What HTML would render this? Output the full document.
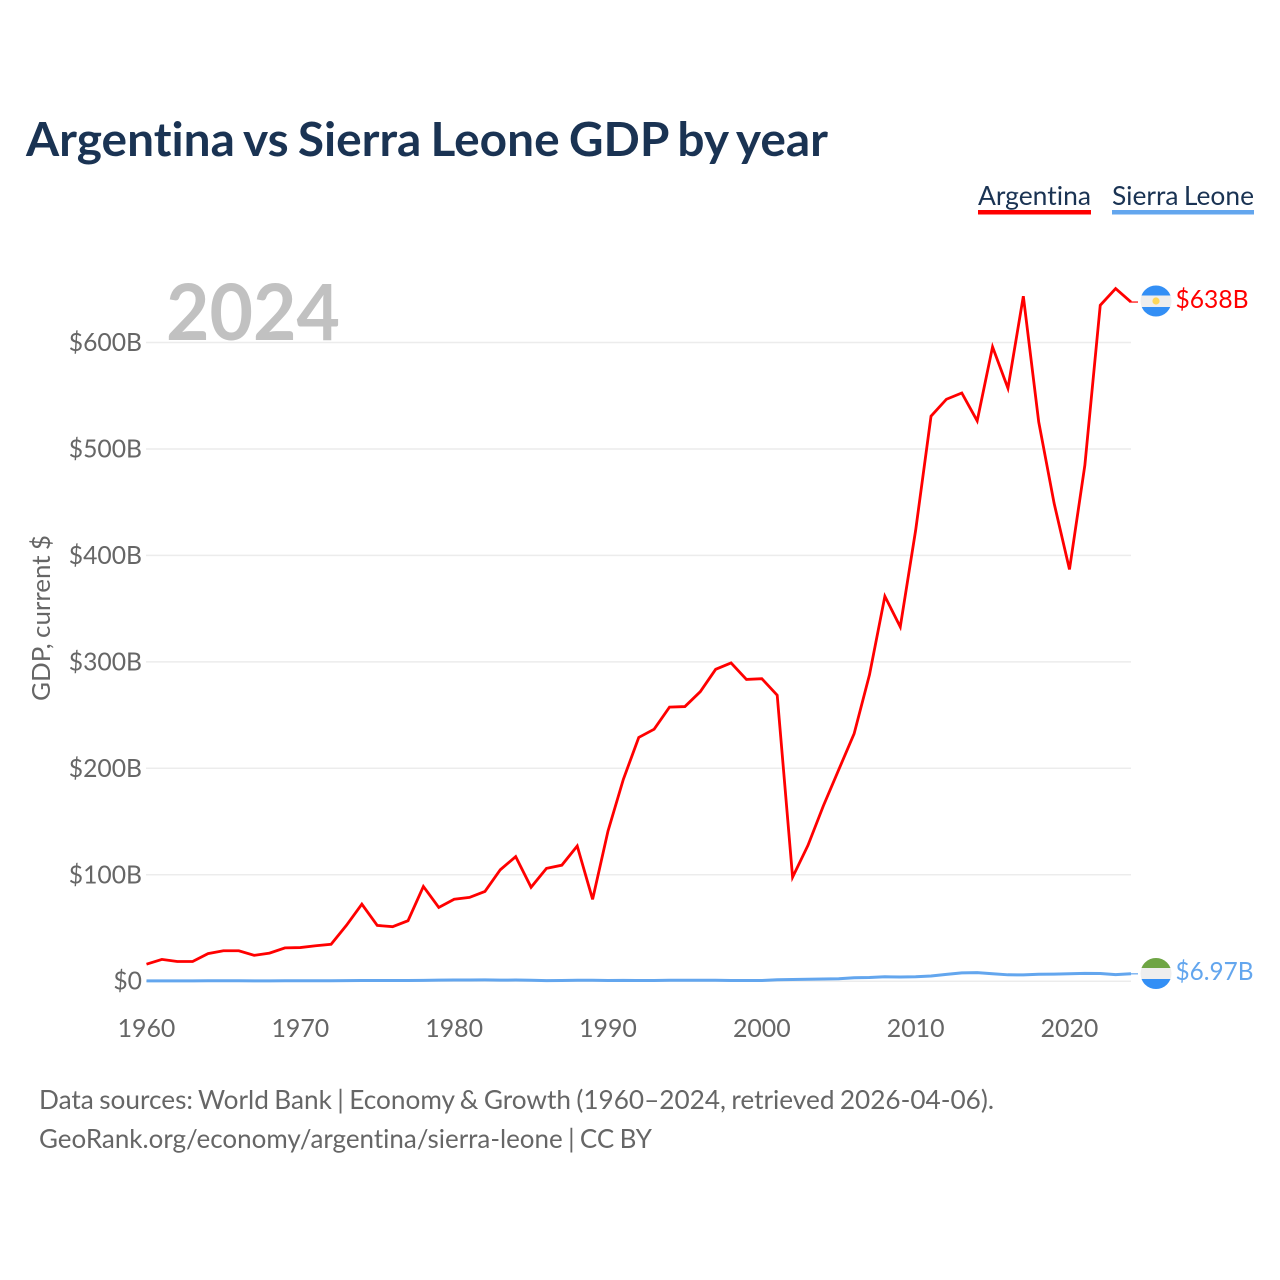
<!DOCTYPE html>
<html lang="en">
<head>
<meta charset="utf-8">
<title>Argentina vs Sierra Leone GDP by year</title>
<style>
  html, body { margin: 0; padding: 0; background: #ffffff; }
  #chart { display: block; width: 1280px; height: 1280px; }
  text { font-family: "Lato", "Carlito", "Liberation Sans", sans-serif; font-variant-ligatures: none; font-feature-settings: "liga" 0, "clig" 0, "dlig" 0; word-spacing: -0.05em; }
</style>
</head>
<body>
<svg id="chart" xmlns="http://www.w3.org/2000/svg" width="1280" height="1280" viewBox="0 0 1280 1280">
  <defs>
    <clipPath id="flag-clip-a"><circle cx="1156" cy="301" r="15.5"></circle></clipPath>
    <clipPath id="flag-clip-b"><circle cx="1156" cy="973.5" r="15.5"></circle></clipPath>
  </defs>

  <text x="26" y="156" font-size="47" font-weight="700" fill="#1a3353" textLength="802" lengthAdjust="spacingAndGlyphs">Argentina vs Sierra Leone GDP by year</text>

  <g>
    <g>
      <text x="978" y="205" font-size="26" fill="#1a3353" textLength="113" lengthAdjust="spacingAndGlyphs">Argentina</text>
      <rect x="978" y="210" width="113" height="4.5" fill="#ff0000"></rect>
    </g>
    <g>
      <text x="1112" y="205" font-size="26" fill="#1a3353" textLength="142" lengthAdjust="spacingAndGlyphs">Sierra Leone</text>
      <rect x="1112" y="210" width="142" height="4.5" fill="#63a6ee"></rect>
    </g>
  </g>

  <g id="grid"></g>
  <g id="y-ticks"></g>
  <g id="x-ticks"></g>

  <text x="166" y="340" font-size="78" font-weight="700" fill="#c1c1c1" textLength="174" lengthAdjust="spacingAndGlyphs">2024</text>

  <text transform="translate(50 701) rotate(-90)" x="0" y="0" font-size="25" fill="#666666" textLength="166" lengthAdjust="spacingAndGlyphs">GDP, current $</text>

  <g id="series"></g>

  <g clip-path="url(#flag-clip-a)">
    <rect x="1140" y="285" width="32" height="32" fill="#eeeeee"></rect>
    <rect x="1140" y="285" width="32" height="10.5" fill="#338ff5"></rect>
    <rect x="1140" y="307" width="32" height="10" fill="#338ff5"></rect>
    <circle cx="1156" cy="301" r="3.6" fill="#fdd75a"></circle>
  </g>
  <text x="1175.5" y="308" font-size="25" fill="#ff0000" textLength="73" lengthAdjust="spacingAndGlyphs">$638B</text>

  <g clip-path="url(#flag-clip-b)">
    <rect x="1140" y="958" width="32" height="32" fill="#eeeeee"></rect>
    <rect x="1140" y="958" width="32" height="10" fill="#6ea544"></rect>
    <rect x="1140" y="979" width="32" height="11" fill="#338ff5"></rect>
  </g>
  <text x="1175.5" y="980" font-size="25" fill="#63a6ee" textLength="78" lengthAdjust="spacingAndGlyphs">$6.97B</text>

  <g>
    <text x="39" y="1109" font-size="26" fill="#666666" textLength="955" lengthAdjust="spacingAndGlyphs">Data sources: World Bank | Economy &amp; Growth (1960–2024, retrieved 2026-04-06).</text>
    <text x="39" y="1148" font-size="26" fill="#666666" textLength="613" lengthAdjust="spacingAndGlyphs">GeoRank.org/economy/argentina/sierra-leone | CC BY</text>
  </g>
</svg>

<script>
const startYear = 1960;
const yTickValues = [0, 100, 200, 300, 400, 500, 600];
const yTickLabels = ["$0", "$100B", "$200B", "$300B", "$400B", "$500B", "$600B"];
const xTickValues = [1960, 1970, 1980, 1990, 2000, 2010, 2020];
const xTickLabels = ["1960", "1970", "1980", "1990", "2000", "2010", "2020"];

const argentinaGdp = [
  16, 20.5, 18.5, 18.5, 25.9, 28.6, 28.6, 24.3, 26.4, 31.3,
  31.6, 33.3, 34.7, 52.5, 72.4, 52.4, 51.2, 56.8, 89, 69.3,
  77, 78.7, 84.3, 104.7, 117, 88.2, 106, 109, 127, 76.9,
  141, 189.7, 229, 236.7, 257.5, 258, 272, 293, 299, 283.5,
  284.2, 268.7, 97.7, 127.6, 164.7, 198.7, 232.5, 287.9, 361.6, 332.9,
  423.6, 530.8, 546.7, 552.6, 526.4, 595.9, 557, 643.5, 525.4, 449,
  386.8, 484.7, 635, 650.7, 638
];
const sierraLeoneGdp = [
  0.3, 0.3, 0.3, 0.3, 0.4, 0.4, 0.4, 0.3, 0.3, 0.4,
  0.4, 0.4, 0.4, 0.5, 0.6, 0.6, 0.6, 0.6, 0.8, 1,
  1.1, 1.1, 1.2, 1, 1.1, 0.9, 0.5, 0.7, 0.9, 0.9,
  0.6, 0.8, 0.6, 0.7, 0.9, 0.9, 0.9, 0.9, 0.7, 0.7,
  0.6, 1.4, 1.6, 1.8, 2.1, 2.3, 3.2, 3.5, 4.2, 3.9,
  4.2, 4.9, 6.4, 7.8, 8, 7, 6, 5.9, 6.5, 6.6,
  7, 7.4, 7.2, 6.2, 6.97
];

function xScale(year) {
  return 146.5 + (year - 1960) * 15.383;
}
function yScale(value) {
  return 981.2 - value * 1.0645;
}
const svgNS = "http://www.w3.org/2000/svg";
function make(tag, attrs, parent) {
  const el = document.createElementNS(svgNS, tag);
  Object.keys(attrs).forEach(function (k) { el.setAttribute(k, attrs[k]); });
  parent.appendChild(el);
  return el;
}

const gridGroup = document.getElementById("grid");
const yGroup = document.getElementById("y-ticks");
const xGroup = document.getElementById("x-ticks");
const seriesGroup = document.getElementById("series");

yTickValues.forEach(function (v, i) {
  const line = make("line", { x1: 146, x2: 1131, y1: yScale(v), y2: yScale(v), stroke: "#ececec", "stroke-width": 1.5 }, gridGroup);
  
  
  const label = make("text", { x: 142, y: yScale(v) + 8.5, "text-anchor": "end", "font-size": 24.7, fill: "#666666" }, yGroup);
  
  
  label.textContent = yTickLabels[i];
});

xTickValues.forEach(function (year, i) {
  const label = make("text", { x: xScale(year), y: 1037, "text-anchor": "middle", "font-size": 24.9, fill: "#666666" }, xGroup);
  
  
  label.textContent = xTickLabels[i];
});

function pointsFor(values) {
  return values.map(function (v, i) {
    return xScale(startYear + i).toFixed(2) + "," + yScale(v).toFixed(2);
  }).join(" ");
}

const sierraLine = make("polyline", { points: pointsFor(sierraLeoneGdp), fill: "none", stroke: "#63a6ee", "stroke-width": 3, "stroke-linejoin": "round" }, seriesGroup);



const argentinaLine = make("polyline", { points: pointsFor(argentinaGdp), fill: "none", stroke: "#ff0000", "stroke-width": 2.8, "stroke-linejoin": "miter" }, seriesGroup);



const lastIndex = argentinaGdp.length - 1;
const lastX = xScale(startYear + lastIndex);

const argentinaLeader = make("line", { x1: lastX, x2: lastX + 7, y1: yScale(argentinaGdp[lastIndex]), y2: yScale(argentinaGdp[lastIndex]), stroke: "#ff0000", "stroke-width": 1.5, opacity: 0.8 }, seriesGroup);



const sierraLeader = make("line", { x1: lastX, x2: lastX + 7, y1: yScale(sierraLeoneGdp[lastIndex]), y2: yScale(sierraLeoneGdp[lastIndex]), stroke: "#63a6ee", "stroke-width": 1.5, opacity: 0.8 }, seriesGroup);


</script>
</body>
</html>
